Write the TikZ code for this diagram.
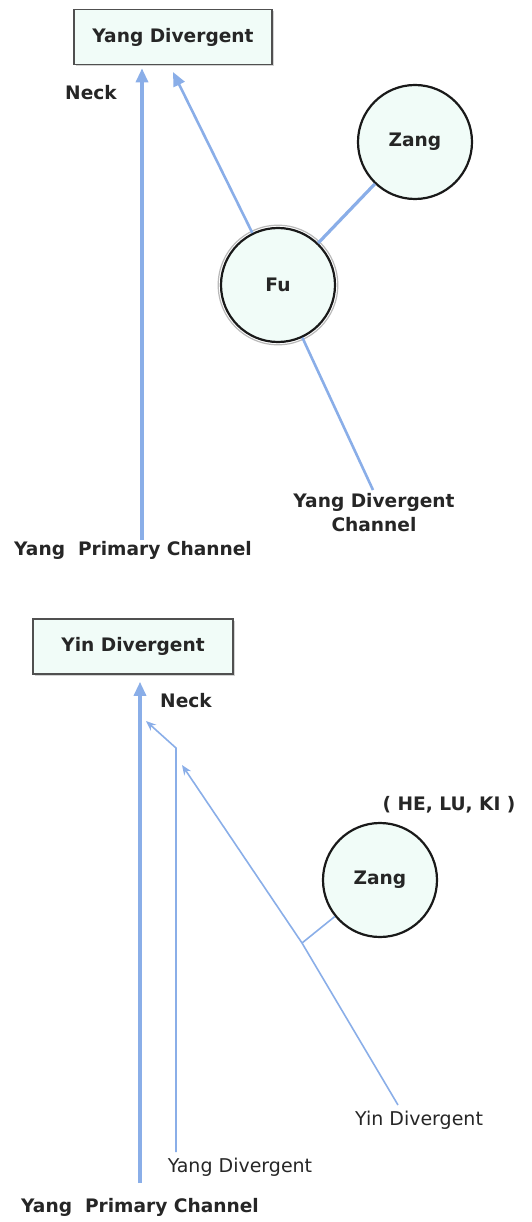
\documentclass[tikz,border=0pt]{standalone}
\usepackage{fontspec}
\setmainfont{DejaVu Sans}
\usetikzlibrary{arrows.meta,calc,shadows}
\definecolor{chan}{RGB}{138,174,232}
\definecolor{mint}{RGB}{241,252,248}
\definecolor{boxline}{RGB}{80,80,80}
\tikzset{
  lbl/.style={font=\fontsize{18.6}{22}\selectfont\bfseries, text=black!85, inner sep=0pt},
  thinlbl/.style={font=\fontsize{19}{22}\selectfont, text=black!85, inner sep=0pt},
  titlebox/.style={draw=boxline, line width=1.6pt, fill=mint, minimum height=55pt, inner sep=0pt,
     font=\fontsize{18.6}{22}\selectfont\bfseries, text=black!85, drop shadow={shadow xshift=1.5pt, shadow yshift=-1.5pt, opacity=0.35}},
  organ/.style={circle, draw=black!90, line width=2.2pt, fill=mint, minimum size=114pt, inner sep=0pt,
     font=\fontsize{18.6}{22}\selectfont\bfseries, text=black!85},
  thick chan/.style={draw=chan, line width=3.2pt},
  mid chan/.style={draw=chan, line width=2.6pt},
  thin chan/.style={draw=chan, line width=1.6pt},
  bigtip/.style={-{Triangle[length=14pt,width=12pt]}},
  smalltip/.style={-{Stealth[length=10pt,width=8pt]}}
}
\begin{document}
\begin{tikzpicture}[x=1pt,y=-1pt]
\useasboundingbox (0,0) rectangle (532,1222);
% ---------- upper diagram ----------
\node[titlebox, minimum width=198pt] (box1) at (173,37) {Yang Divergent};
\node[lbl] (neck1) at (91,93) {Neck};
\node[organ] (zang1) at (415,142) {Zang};
\draw[gray!55, line width=1.2pt] (278,285) circle (59.8pt);
\node[organ] (fu) at (278,285) {Fu};
\coordinate (p1) at (142,540);
\coordinate (tip1) at (173,72);
\coordinate (yd1) at (373,490);
\node[lbl, align=center, font=\fontsize{18.6}{24}\selectfont\bfseries] (ydc) at (374,513) {Yang Divergent\\Channel};
\node[lbl] (ypc1) at (133,550) {Yang\ \ Primary Channel};
\draw[thick chan, bigtip, shorten >=3pt] (p1) -- (p1 |- box1.south);
\draw[mid chan, bigtip] (fu) -- (tip1);
\draw[thick chan] (zang1) -- (fu);
\draw[mid chan] (fu) -- (yd1);
% ---------- lower diagram ----------
\node[titlebox, minimum width=200pt] (box2) at (133,646.5) {Yin Divergent};
\node[lbl] (neck2) at (186,701) {Neck};
\node[organ] (zang2) at (380,880) {Zang};
\node[lbl] (hlk) at (449,805) {( HE, LU, KI )};
\node[thinlbl] (yin) at (419,1120) {Yin Divergent};
\node[thinlbl] (yangd) at (240,1167) {Yang Divergent};
\node[lbl] (ypc2) at (140,1207) {Yang\ \ Primary Channel};
\coordinate (p2) at (140,1183);
\coordinate (q1) at (176,1152);
\coordinate (q2) at (176,748);
\coordinate (q3) at (146,721);
\coordinate (r1) at (398,1105);
\coordinate (rj) at (302,943);
\coordinate (r2) at (182,765);
\draw[thick chan, bigtip, shorten >=7pt] (p2) -- (p2 |- box2.south);
\draw[thin chan, smalltip] (q1) -- (q2) -- (q3);
\draw[thin chan, smalltip] (r1) -- (rj) -- (r2);
\draw[thin chan] (rj) -- (zang2);
\end{tikzpicture}
\end{document}
